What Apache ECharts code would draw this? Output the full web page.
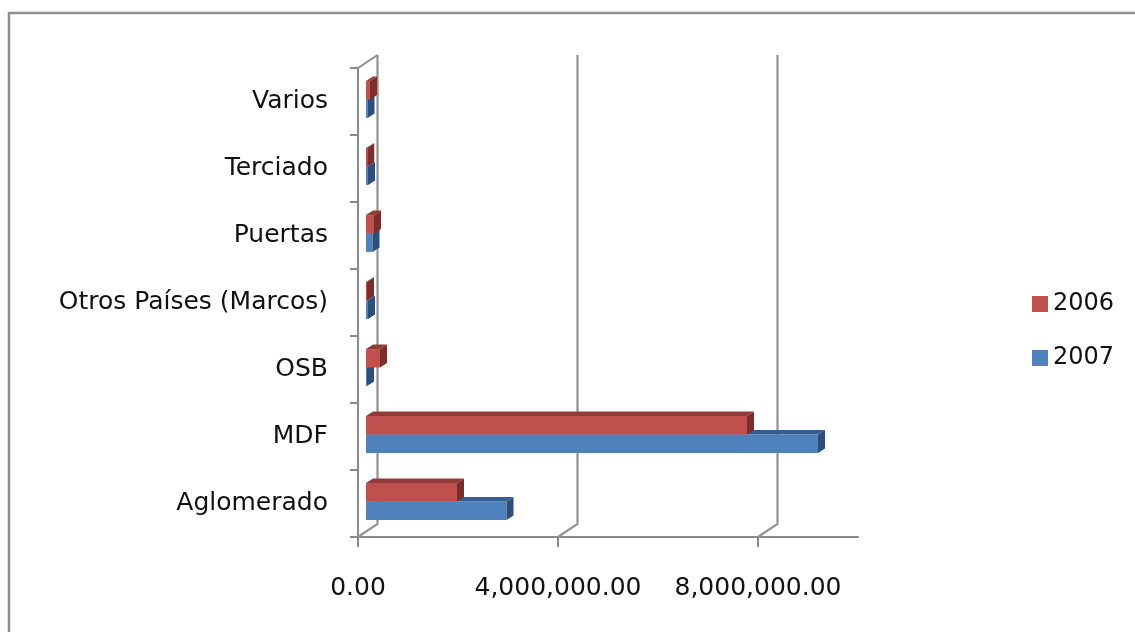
<!DOCTYPE html>
<html>
<head>
<meta charset="utf-8">
<script src="https://cdn.jsdelivr.net/npm/echarts@6/dist/echarts.min.js"></script>
<style>
  html, body { margin: 0; padding: 0; background: #ffffff; }
  #chart { width: 1135px; height: 632px; }
</style>
</head>
<body>
<div id="chart"></div>
<script>
// Categories listed bottom-up along the vertical category axis
const categories = ['Aglomerado', 'MDF', 'OSB', 'Otros Países (Marcos)', 'Puertas', 'Terciado', 'Varios'];
const values2006 = [1820000, 7620000, 280000, 20000, 160000, 25000, 80000];
const values2007 = [2810000, 9040000, 20000, 40000, 130000, 40000, 30000];
const tickValues = [0, 4000000, 8000000];
const seriesNames = ['2006', '2007'];

// Faux-3D geometry: wall depth and bar placement inside it
const WALL_DX = 19.5, WALL_DY = 13;
const BAR_SHIFT_X = 8, BAR_SHIFT_Y = -2;
const BAR_DX = 7, BAR_DY = 4.5;

const palette = {
  '2006': { front: '#C0504D', top: '#913B38', side: '#7B2F2D' },
  '2007': { front: '#4F81BD', top: '#365F91', side: '#2C4E78' }
};

function fmt(v) {
  return v.toLocaleString('en-US', { minimumFractionDigits: 2, maximumFractionDigits: 2 });
}

// Draws one 3D bar: front face, top face and right side face
function makeBarRenderer(name, upper) {
  const c = palette[name];
  return function (params, api) {
    const idx = api.value(1);
    const val = api.value(0);
    const start = api.coord([0, idx]);
    const end = api.coord([val, idx]);
    const band = api.size([0, 1])[1];
    const h = band * 0.275;
    const cy = start[1] + BAR_SHIFT_Y;
    const y0 = upper ? cy - h : cy;
    const y1 = y0 + h;
    const x0 = start[0] + BAR_SHIFT_X;
    const x1 = end[0] + BAR_SHIFT_X;
    return {
      type: 'group',
      children: [
        { type: 'rect', shape: { x: x0, y: y0, width: x1 - x0, height: h },
          style: { fill: c.front } },
        { type: 'polygon', shape: { points: [[x0, y0], [x1, y0], [x1 + BAR_DX, y0 - BAR_DY], [x0 + BAR_DX, y0 - BAR_DY]] },
          style: { fill: c.top } },
        { type: 'polygon', shape: { points: [[x1, y0], [x1 + BAR_DX, y0 - BAR_DY], [x1 + BAR_DX, y1 - BAR_DY], [x1, y1]] },
          style: { fill: c.side } }
      ]
    };
  };
}

// Back-wall gridlines with the floor diagonals that join them to the front ticks
function renderGrid(params, api) {
  const v = api.value(0);
  const cs = params.coordSys;
  const x = api.coord([v, 0])[0];
  const yb = cs.y + cs.height;
  const yt = cs.y;
  const children = [{
    type: 'polyline',
    shape: { points: [[x, yb], [x + WALL_DX, yb - WALL_DY], [x + WALL_DX, yt - WALL_DY]] },
    style: { stroke: '#929292', lineWidth: 2.2, fill: null }
  }];
  if (v === 0) {
    children.push({
      type: 'polyline',
      shape: { points: [[cs.x - 8, yt], [x, yt], [x + WALL_DX, yt - WALL_DY]] },
      style: { stroke: '#8a8a8a', lineWidth: 2, fill: null }
    });
  }
  return { type: 'group', children: children };
}

const chart = echarts.init(document.getElementById('chart'), null, { renderer: 'canvas' });

chart.setOption({
  animation: false,
  backgroundColor: '#ffffff',
  textStyle: { fontFamily: 'DejaVu Sans', color: '#111111' },
  graphic: [{
    type: 'rect',
    shape: { x: 9, y: 13, width: 1300, height: 800 },
    style: { fill: null, stroke: '#8e8e8e', lineWidth: 2.5 },
    z: 100
  }],
  grid: { left: 358, right: 277, top: 68, bottom: 95, containLabel: false },
  legend: {
    orient: 'vertical',
    left: 1027,
    top: 287,
    data: seriesNames,
    icon: 'rect',
    itemWidth: 16,
    itemHeight: 16,
    itemGap: 30,
    textStyle: { fontFamily: 'DejaVu Sans', fontSize: 24, color: '#111111' }
  },
  xAxis: {
    type: 'value',
    min: 0,
    max: 10000000,
    interval: 4000000,
    splitLine: { show: false },
    axisLine: { show: true, lineStyle: { color: '#8a8a8a', width: 2 } },
    axisTick: { show: true, length: 10, customValues: tickValues, lineStyle: { color: '#8a8a8a', width: 2 } },
    axisLabel: {
      customValues: tickValues,
      margin: 39,
      fontSize: 25,
      color: '#111111',
      fontFamily: 'DejaVu Sans',
      formatter: function (v) { return fmt(v); }
    }
  },
  yAxis: {
    type: 'category',
    data: categories,
    axisLine: { show: true, lineStyle: { color: '#8a8a8a', width: 2 } },
    axisTick: { show: true, length: 8, lineStyle: { color: '#8a8a8a', width: 2 } },
    axisLabel: { margin: 30, fontSize: 25, color: '#111111', fontFamily: 'DejaVu Sans' },
    splitLine: { show: false }
  },
  series: [
    {
      type: 'custom',
      name: 'grid',
      silent: true,
      renderItem: renderGrid,
      data: tickValues.map(v => [v, 0]),
      encode: { x: 0, y: 1 },
      z: 1
    },
    {
      type: 'custom',
      name: '2007',
      itemStyle: { color: palette['2007'].front },
      renderItem: makeBarRenderer('2007', false),
      data: values2007.map((v, i) => [v, i]),
      encode: { x: 0, y: 1 },
      z: 2
    },
    {
      type: 'custom',
      name: '2006',
      itemStyle: { color: palette['2006'].front },
      renderItem: makeBarRenderer('2006', true),
      data: values2006.map((v, i) => [v, i]),
      encode: { x: 0, y: 1 },
      z: 3
    }
  ]
});
</script>
</body>
</html>
